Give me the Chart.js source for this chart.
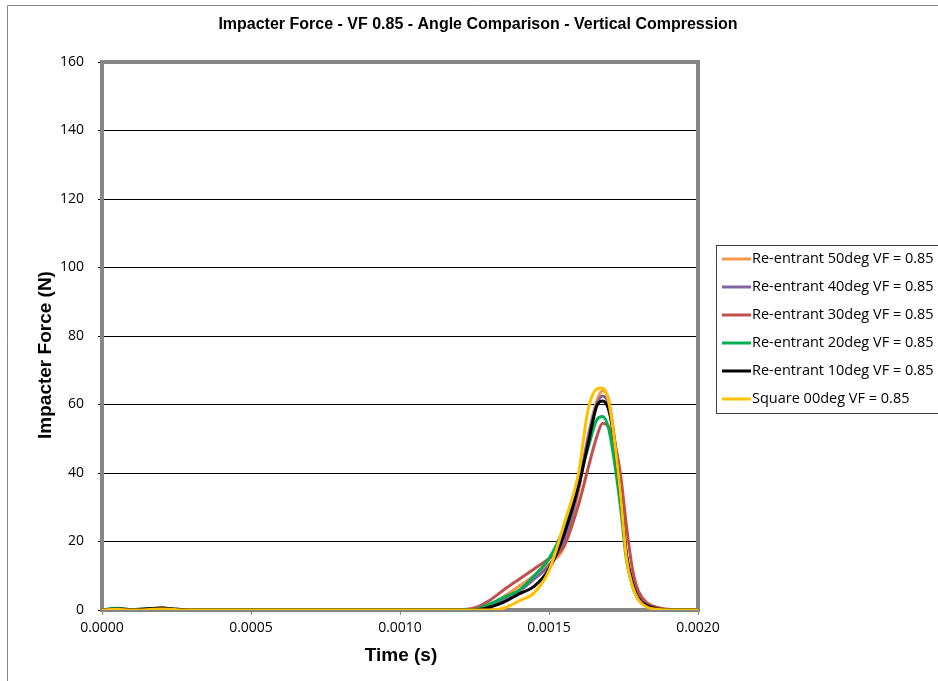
<!DOCTYPE html>
<html>
<head>
<meta charset="utf-8">
<script src="https://cdn.jsdelivr.net/npm/chart.js@4.4.1/dist/chart.umd.min.js"></script>
<style>
  html, body { margin: 0; padding: 0; background: #fff; }
  #wrap { width: 938px; height: 681px; position: relative; }
</style>
</head>
<body>
<div id="wrap"><canvas id="chart"></canvas></div>
<script>
const chartTitle = 'Impacter Force - VF 0.85 - Angle Comparison - Vertical Compression';
const xTitle = 'Time (s)';
const yTitle = 'Impacter Force (N)';
const seriesNames = [
  'Re-entrant 50deg VF = 0.85',
  'Re-entrant 40deg VF = 0.85',
  'Re-entrant 30deg VF = 0.85',
  'Re-entrant 20deg VF = 0.85',
  'Re-entrant 10deg VF = 0.85',
  'Square 00deg VF = 0.85'
];
const seriesColors = ['#F79646', '#8064A2', '#C0504D', '#00B050', '#000000', '#FFC000'];

// time (s)
const times = [0, 0.00005, 0.0001, 0.00015, 0.0002, 0.00025, 0.0003, 0.0005, 0.0008, 0.0011,
  0.0012, 0.00125, 0.0013, 0.00135, 0.0014, 0.00145, 0.0015, 0.00155, 0.0016, 0.00163,
  0.00166, 0.00168, 0.0017, 0.00172, 0.00174, 0.00176, 0.00178, 0.0018, 0.00183, 0.00186,
  0.0019, 0.00195, 0.002];

// impacter force (N)
const force50 = [0, 0.4, 0.1, 0.3, 0.4, 0.1, 0, 0, 0, 0, 0, 0.2, 1.5, 4, 7, 10, 13.5, 18.5, 35, 50, 61, 64, 61.5, 50, 34, 16, 7.5, 3.2, 1.1, 0.3, 0.1, 0, 0];
const force40 = [0, 0.3, 0, 0.2, 0.5, 0.1, 0, 0, 0, 0, 0, 0.2, 1.2, 3, 5.5, 9, 13, 20, 36, 50, 60, 62.5, 60, 49.5, 34, 16, 7.8, 3.4, 1.2, 0.4, 0.1, 0, 0];
const force30 = [0, 0.2, 0, 0.3, 0.6, 0.2, 0, 0, 0, 0, 0.1, 0.6, 2.8, 6, 9, 12, 15, 18.5, 31, 41, 50.5, 54.5, 53.5, 49, 39.5, 24.5, 12, 5.5, 2, 0.8, 0.2, 0, 0];
const force20 = [0, 0.5, 0.1, 0.4, 0.5, 0.2, 0, 0, 0, 0, 0, 0.1, 1.7, 3.8, 5.8, 10, 15, 24, 38.5, 47, 55.5, 56.5, 53, 43, 30, 14.5, 7, 3, 1, 0.3, 0, 0, 0];
const force10 = [0, 0.3, 0.1, 0.3, 0.6, 0.2, 0, 0, 0, 0, 0, 0, 0.8, 2.4, 4.7, 6.9, 12, 22, 36.5, 48, 59.5, 61, 58.5, 49, 33.5, 16, 8, 3.5, 1.2, 0.4, 0, 0, 0];
const force00 = [0, 0.2, 0, 0.1, 0.3, 0.1, 0, 0, 0, 0, 0, 0, 0, 0.6, 2.7, 5, 11.5, 25, 40.3, 58, 64.5, 64.8, 61, 49.3, 33.6, 15, 7, 3, 0.8, 0.2, 0, 0, 0];

const allForces = [force50, force40, force30, force20, force10, force00];

const datasets = allForces.map((vals, i) => ({
  label: seriesNames[i],
  data: vals.map((v, j) => ({ x: times[j], y: v })),
  borderColor: seriesColors[i],
  backgroundColor: seriesColors[i],
  borderWidth: 3,
  pointRadius: 0,
  cubicInterpolationMode: 'monotone',
  order: allForces.length - i
}));

const decorPlugin = {
  id: 'decor',
  beforeDatasetsDraw(chart) {
    const { ctx, chartArea: a } = chart;
    ctx.save();
    ctx.strokeStyle = '#868686';
    ctx.lineWidth = 4;
    ctx.strokeRect(a.left, a.top, a.right - a.left, a.bottom - a.top);
    ctx.restore();
  },
  afterDraw(chart) {
    const ctx = chart.ctx;
    ctx.save();
    // outer chart frame
    ctx.strokeStyle = '#868686';
    ctx.lineWidth = 1;
    ctx.beginPath();
    ctx.moveTo(7.5, 690);
    ctx.lineTo(7.5, 5.5);
    ctx.lineTo(950, 5.5);
    ctx.stroke();
    // titles
    ctx.fillStyle = '#000';
    ctx.textAlign = 'center';
    ctx.textBaseline = 'middle';
    ctx.font = 'bold 16px "Liberation Sans", Arial, sans-serif';
    ctx.fillText(chartTitle, 478, 25);
    ctx.font = 'bold 19px "Liberation Sans", Arial, sans-serif';
    ctx.fillText(xTitle, 401, 656);
    ctx.save();
    ctx.translate(46, 355);
    ctx.rotate(-Math.PI / 2);
    ctx.fillText(yTitle, 0, 0);
    ctx.restore();
    // legend
    ctx.strokeStyle = '#404040';
    ctx.lineWidth = 1;
    ctx.strokeRect(716.5, 245.5, 240, 168);
    ctx.font = '14.5px "Open Sans", sans-serif';
    ctx.textAlign = 'left';
    chart.data.datasets.forEach((ds, i) => {
      const y = 259 + i * 28;
      ctx.strokeStyle = ds.borderColor;
      ctx.lineWidth = 3;
      ctx.beginPath();
      ctx.moveTo(722, y);
      ctx.lineTo(751, y);
      ctx.stroke();
      ctx.fillStyle = '#000';
      ctx.fillText(ds.label, 752, y);
    });
    ctx.restore();
  }
};

const tickFont = { family: '"Open Sans", sans-serif', size: 14 };

new Chart(document.getElementById('chart'), {
  type: 'line',
  data: { datasets: datasets },
  options: {
    responsive: true,
    maintainAspectRatio: false,
    animation: false,
    layout: { padding: { left: 0, top: 62, right: 240, bottom: 0 } },
    plugins: { legend: { display: false }, tooltip: { enabled: false }, title: { display: false } },
    scales: {
      x: {
        type: 'linear',
        min: 0,
        max: 0.002,
        afterFit: (s) => { s.height = 71; },
        ticks: {
          stepSize: 0.0005,
          color: '#000',
          font: tickFont,
          padding: 5,
          maxRotation: 0,
          callback: (v) => v.toFixed(4)
        },
        grid: { drawOnChartArea: false, drawTicks: true, tickLength: 5, color: '#868686' },
        border: { display: false }
      },
      y: {
        min: 0,
        max: 160,
        afterFit: (s) => { s.width = 102; },
        ticks: { stepSize: 20, color: '#000', font: tickFont, padding: 14 },
        grid: { color: '#000', lineWidth: 1, drawTicks: true, tickLength: 4 },
        border: { display: false }
      }
    }
  },
  plugins: [decorPlugin]
});
</script>
</body>
</html>
